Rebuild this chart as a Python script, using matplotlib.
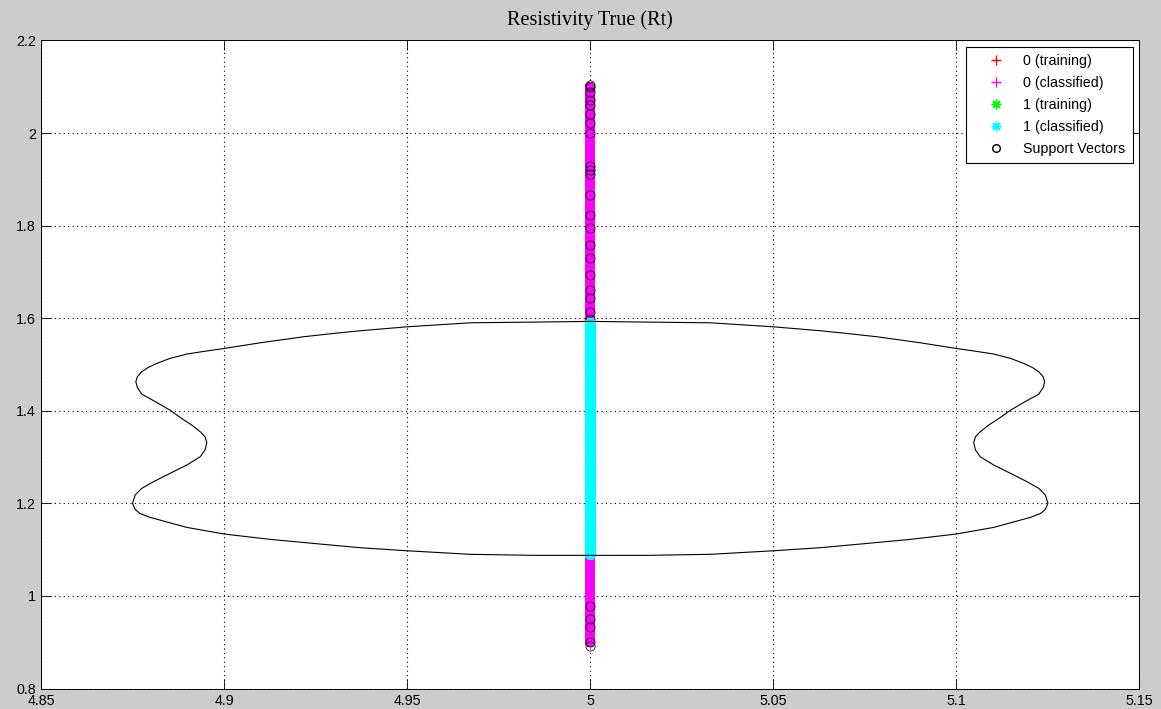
import numpy as np
import matplotlib.pyplot as plt
from matplotlib.lines import Line2D

# feature value shared by every sample
feature_x = 5.0

# Rt samples labelled 0 (outside the boundary) and 1 (inside)
class0_y = [0.90, 0.91, 0.92, 0.93, 0.94, 0.95, 0.96, 0.97, 0.98, 0.99,
            1.00, 1.01, 1.02, 1.03, 1.04, 1.05, 1.06, 1.07, 1.08,
            1.60, 1.61, 1.62, 1.63, 1.64, 1.65, 1.66, 1.67, 1.68, 1.69,
            1.70, 1.71, 1.72, 1.73, 1.74, 1.75, 1.76, 1.77, 1.78, 1.79,
            1.80, 1.81, 1.82, 1.83, 1.84, 1.85, 1.86, 1.87, 1.88, 1.89,
            1.90, 1.91, 1.92, 1.93, 1.94, 1.95, 1.96, 1.97, 1.98, 1.99,
            2.00, 2.01, 2.02, 2.03, 2.04, 2.05, 2.06, 2.07, 2.08, 2.09, 2.10]
class1_y = [1.09, 1.10, 1.11, 1.12, 1.13, 1.14, 1.15, 1.16, 1.17, 1.18, 1.19,
            1.20, 1.21, 1.22, 1.23, 1.24, 1.25, 1.26, 1.27, 1.28, 1.29,
            1.30, 1.31, 1.32, 1.33, 1.34, 1.35, 1.36, 1.37, 1.38, 1.39,
            1.40, 1.41, 1.42, 1.43, 1.44, 1.45, 1.46, 1.47, 1.48, 1.49,
            1.50, 1.51, 1.52, 1.53, 1.54, 1.55, 1.56, 1.57, 1.58, 1.59]

# support vectors
sv_y = [0.892, 0.900, 0.933, 0.950, 0.978, 1.426, 1.445, 1.473, 1.505,
        1.598, 1.613, 1.643, 1.661, 1.693, 1.730, 1.758, 1.795, 1.823,
        1.866, 1.911, 1.920, 1.929, 2.001, 2.021, 2.042, 2.060, 2.071,
        2.089, 2.099, 2.104]

# decision boundary: left half (top -> bottom) and right half (bottom -> top)
left_x = [5.0000, 4.9844, 4.9672, 4.9499, 4.9371, 4.9307, 4.9216, 4.9098,
          4.9000, 4.8943, 4.8897, 4.8851, 4.8815, 4.8792, 4.8774, 4.8762,
          4.8758, 4.8762, 4.8774, 4.8792, 4.8815, 4.8851, 4.8883, 4.8911,
          4.8934, 4.8947, 4.8952, 4.8947, 4.8934, 4.8897, 4.8851, 4.8806,
          4.8774, 4.8756, 4.8749, 4.8756, 4.8769, 4.8797, 4.8824, 4.8897,
          4.9000, 4.9125, 4.9262, 4.9371, 4.9499, 4.9672, 4.9844, 5.0000]
left_y = [1.5931, 1.5916, 1.5901, 1.5814, 1.5729, 1.5678, 1.5599, 1.5469,
          1.5347, 1.5282, 1.5225, 1.5131, 1.5023, 1.4937, 1.4843, 1.4735,
          1.4627, 1.4505, 1.4361, 1.4282, 1.4181, 1.4015, 1.3835, 1.3691,
          1.3547, 1.3439, 1.3310, 1.3151, 1.3007, 1.2827, 1.2647, 1.2467,
          1.2323, 1.2179, 1.2000, 1.1870, 1.1783, 1.1697, 1.1639, 1.1481,
          1.1337, 1.1222, 1.1121, 1.1042, 1.0976, 1.0899, 1.0877, 1.0877]
right_x = [5.0156, 5.0328, 5.0501, 5.0629, 5.0738, 5.0875, 5.1000, 5.1103,
           5.1176, 5.1203, 5.1231, 5.1244, 5.1251, 5.1244, 5.1226, 5.1194,
           5.1149, 5.1103, 5.1066, 5.1053, 5.1048, 5.1053, 5.1066, 5.1089,
           5.1117, 5.1149, 5.1185, 5.1208, 5.1226, 5.1238, 5.1242, 5.1238,
           5.1226, 5.1208, 5.1185, 5.1149, 5.1103, 5.1057, 5.1000, 5.0902,
           5.0784, 5.0693, 5.0629, 5.0501, 5.0328, 5.0156, 5.0000]
right_y = [1.0877, 1.0899, 1.0976, 1.1042, 1.1121, 1.1222, 1.1337, 1.1481,
           1.1639, 1.1697, 1.1783, 1.1870, 1.2000, 1.2179, 1.2323, 1.2467,
           1.2647, 1.2827, 1.3007, 1.3151, 1.3310, 1.3439, 1.3547, 1.3691,
           1.3835, 1.4015, 1.4181, 1.4282, 1.4361, 1.4505, 1.4627, 1.4735,
           1.4843, 1.4937, 1.5023, 1.5131, 1.5225, 1.5282, 1.5347, 1.5469,
           1.5599, 1.5678, 1.5729, 1.5814, 1.5901, 1.5916, 1.5931]

xticks = [4.85, 4.9, 4.95, 5.0, 5.05, 5.1, 5.15]
xticklabels = ['4.85', '4.9', '4.95', '5', '5.05', '5.1', '5.15']
yticks = [0.8, 1.0, 1.2, 1.4, 1.6, 1.8, 2.0, 2.2]
yticklabels = ['0.8', '1', '1.2', '1.4', '1.6', '1.8', '2', '2.2']

plt.rcParams['font.family'] = ['Liberation Sans', 'DejaVu Sans']

# asterisk made of line strokes (8 arms)
ASTER = (8, 2, 0)

fig = plt.figure(figsize=(11.61, 7.09), dpi=100, facecolor='#cccccc')
ax = fig.add_axes([0.0357, 0.0289, 0.9454, 0.914])
ax.set_facecolor('white')

x0 = np.full(len(class0_y), feature_x)
x1 = np.full(len(class1_y), feature_x)
xs = np.full(len(sv_y), feature_x)

# training points, then classified points on top
ax.plot(x0, class0_y, ls='none', marker='+', color='red', ms=7.5, mew=4, zorder=2)
ax.plot(x1, class1_y, ls='none', marker=ASTER, color=(0, 1, 0), ms=7.5, mew=3, zorder=2)
ax.plot(x0, class0_y, ls='none', marker='+', color=(1, 0, 1), ms=7.5, mew=4, zorder=3)
ax.plot(xs, sv_y, ls='none', marker='o', mfc='none', mec='black', ms=6.6, mew=0.55, zorder=4)
ax.plot(x1, class1_y, ls='none', marker=ASTER, color=(0, 1, 1), ms=7.5, mew=4, zorder=5)

bx = left_x + right_x
by = left_y + right_y
ax.plot(bx, by, color='black', lw=0.8, zorder=6)

ax.set_xlim(4.85, 5.15)
ax.set_ylim(0.8, 2.2)
ax.set_xticks(xticks)
ax.set_xticklabels(xticklabels)
ax.set_yticks(yticks)
ax.set_yticklabels(yticklabels)
ax.tick_params(direction='in', length=7.5, width=0.6, labelsize=10.3,
               top=True, right=True, colors='black')
ax.tick_params(axis='x', pad=4)
ax.tick_params(axis='y', pad=4)
ax.grid(True, color='black', ls=(0, (1, 3)), lw=0.8, zorder=1)
ax.set_axisbelow(True)
for sp in ax.spines.values():
    sp.set_linewidth(0.7)

ax.set_title('Resistivity True (Rt)', family=['Liberation Serif', 'DejaVu Serif'],
             fontsize=14.5, pad=11)

handles = [
    Line2D([], [], ls='none', marker='+', color='red', ms=7, mew=1),
    Line2D([], [], ls='none', marker='+', color=(1, 0, 1), ms=7, mew=1),
    Line2D([], [], ls='none', marker=ASTER, color=(0, 1, 0), ms=7, mew=1),
    Line2D([], [], ls='none', marker=ASTER, color=(0, 1, 1), ms=7, mew=1),
    Line2D([], [], ls='none', marker='o', mfc='none', mec='black', ms=5.5, mew=1),
]
labels = ['0 (training)', '0 (classified)', '1 (training)', '1 (classified)',
          'Support Vectors']
leg = ax.legend(handles, labels, loc='upper right', fontsize=10.3,
                fancybox=False, framealpha=1, edgecolor='black',
                borderaxespad=0.45, borderpad=0.5, labelspacing=0.55,
                handlelength=3.2, handletextpad=0.3)
leg.get_frame().set_linewidth(0.8)
leg.set_zorder(10)

fig.savefig('out.png', dpi=100, facecolor=fig.get_facecolor())
